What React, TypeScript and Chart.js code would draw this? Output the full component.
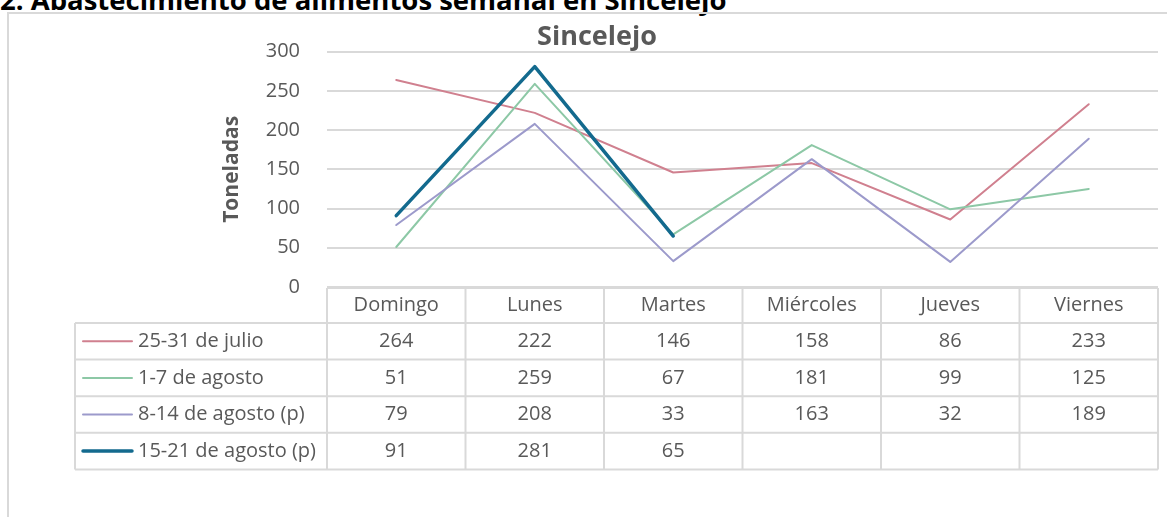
import React, { useEffect, useRef } from "react";
import { Chart, registerables } from "chart.js";

Chart.register(...registerables);

// ---- data ----
const heading = "2. Abastecimiento de alimentos semanal en Sincelejo";
const chartTitle = "Sincelejo";
const yAxisTitle = "Toneladas";
const categories = ["Domingo", "Lunes", "Martes", "Miércoles", "Jueves", "Viernes"];
const seriesNames = ["25-31 de julio", "1-7 de agosto", "8-14 de agosto (p)", "15-21 de agosto (p)"];
const julio25_31: (number | null)[] = [264, 222, 146, 158, 86, 233];
const agosto1_7: (number | null)[] = [51, 259, 67, 181, 99, 125];
const agosto8_14: (number | null)[] = [79, 208, 33, 163, 32, 189];
const agosto15_21: (number | null)[] = [91, 281, 65, null, null, null];
const yMin = 0;
const yMax = 300;
const yStep = 50;

const seriesValues = [julio25_31, agosto1_7, agosto8_14, agosto15_21];
const seriesColors = ["#d0808f", "#8dc8a6", "#9c9acb", "#136a8e"];
const seriesWidths = [2, 2, 2, 3.5];

// ---- style ----
const FONT = "'Open Sans', sans-serif";
const TEXT = "#595959";
const GRID = "#d9d9d9";

const tablePlugin = {
  id: "dataTable",
  afterDraw(chart: any) {
    const { ctx, chartArea } = chart;
    const xs = chart.scales.x;
    const n = categories.length;
    const centers = categories.map((_, i) => xs.getPixelForValue(i));
    const bounds: number[] = [chartArea.left];
    for (let i = 0; i < n - 1; i++) bounds.push((centers[i] + centers[i + 1]) / 2);
    bounds.push(chartArea.right);
    const headTop = chartArea.bottom + 1;
    const headH = 35;
    const rowH = 36.6;
    const legendLeft = 75;
    const rowsTop = headTop + headH;
    const bottom = rowsTop + rowH * seriesNames.length;

    const line = (x1: number, y1: number, x2: number, y2: number) => {
      ctx.beginPath();
      ctx.moveTo(x1, y1);
      ctx.lineTo(x2, y2);
      ctx.stroke();
    };

    ctx.save();
    ctx.strokeStyle = GRID;
    ctx.lineWidth = 2;
    line(bounds[0], headTop, bounds[n], headTop);
    for (let r = 0; r <= seriesNames.length; r++) {
      line(legendLeft, rowsTop + r * rowH, bounds[n], rowsTop + r * rowH);
    }
    bounds.forEach((b) => line(b, headTop, b, bottom));
    line(legendLeft, rowsTop, legendLeft, bottom);

    ctx.font = `20px ${FONT}`;
    ctx.fillStyle = TEXT;
    ctx.textBaseline = "middle";
    ctx.textAlign = "center";
    categories.forEach((c, i) => ctx.fillText(c, centers[i], headTop + headH / 2));
    seriesValues.forEach((vals, r) => {
      const cy = rowsTop + r * rowH + rowH / 2;
      vals.forEach((v, i) => {
        if (v !== null && v !== undefined) ctx.fillText(String(v), centers[i], cy);
      });
    });
    ctx.textAlign = "left";
    seriesNames.forEach((name, r) => {
      const cy = rowsTop + r * rowH + rowH / 2;
      ctx.strokeStyle = seriesColors[r];
      ctx.lineWidth = seriesWidths[r];
      ctx.lineCap = "round";
      line(legendLeft + 8, cy, legendLeft + 57, cy);
      ctx.fillText(name, legendLeft + 63, cy);
    });
    ctx.restore();
  },
};

export default function App() {
  const ref = useRef<HTMLCanvasElement | null>(null);

  useEffect(() => {
    if (!ref.current) return;
    const chart = new Chart(ref.current, {
      type: "line",
      data: {
        labels: categories,
        datasets: seriesValues.map((vals, i) => ({
          label: seriesNames[i],
          data: vals,
          borderColor: seriesColors[i],
          backgroundColor: seriesColors[i],
          borderWidth: seriesWidths[i],
          pointRadius: 0,
          pointHoverRadius: 0,
          tension: 0,
          fill: false,
          spanGaps: false,
          borderJoinStyle: "round" as const,
          borderCapStyle: "round" as const,
          order: seriesValues.length - i,
        })),
      },
      options: {
        animation: false,
        responsive: true,
        maintainAspectRatio: false,
        layout: { padding: { left: 36, right: 9, top: 0, bottom: 230 } },
        plugins: {
          legend: { display: false },
          tooltip: { enabled: false },
          title: {
            display: true,
            text: chartTitle,
            color: TEXT,
            font: { family: FONT, size: 27, weight: "bold", lineHeight: 1.1 },
            padding: { top: 22, bottom: 0 },
          },
        },
        scales: {
          x: {
            type: "category",
            offset: true,
            grid: { display: false, drawTicks: false },
            border: { display: false },
            ticks: { display: false },
            afterFit: (s: any) => {
              s.height = 0;
            },
          },
          y: {
            min: yMin,
            max: yMax,
            grid: { color: GRID, lineWidth: 2, drawTicks: false },
            border: { display: false },
            ticks: {
              stepSize: yStep,
              color: TEXT,
              padding: 27,
              font: { family: FONT, size: 20 },
            },
            title: {
              display: true,
              text: yAxisTitle,
              color: TEXT,
              font: { family: FONT, size: 21, weight: "bold" },
              padding: { top: 183, bottom: 0 },
            },
            afterFit: (s: any) => {
              s.width = 291;
            },
          },
        },
      },
      plugins: [tablePlugin],
    });
    return () => chart.destroy();
  }, []);

  return (
    <div style={{ position: "absolute", left: 0, top: 0, width: 1167, height: 517, overflow: "hidden", background: "#fff" }}>
      <div
        style={{
          position: "absolute",
          left: 0,
          top: -14,
          fontFamily: FONT,
          fontWeight: "bold",
          fontSize: 27.5,
          lineHeight: "27px",
          whiteSpace: "nowrap",
          color: "#000",
        }}
      >
        {heading}
      </div>
      <div
        style={{
          position: "absolute",
          left: 7,
          top: 12,
          width: 1200,
          height: 600,
          borderLeft: `2px solid ${GRID}`,
          borderTop: `2px solid ${GRID}`,
        }}
      />
      <div style={{ position: "absolute", left: 0, top: 0, width: 1167, height: 517 }}>
        <canvas ref={ref} />
      </div>
    </div>
  );
}
